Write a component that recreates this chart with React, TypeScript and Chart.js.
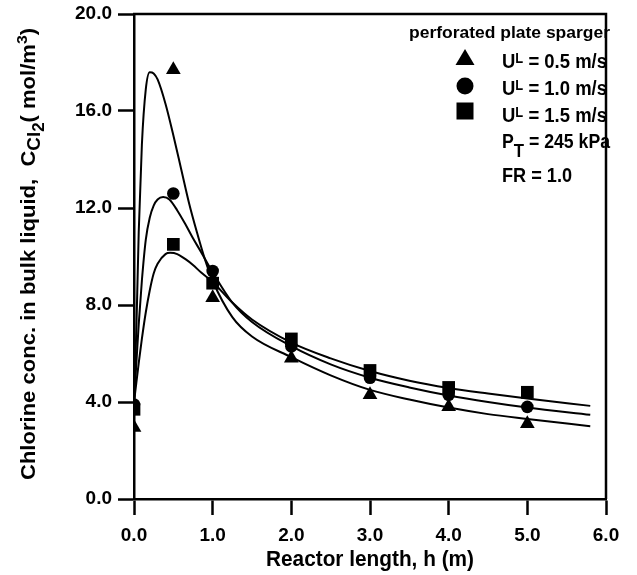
import React, { useEffect, useRef } from "react";
import { Chart, registerables } from "chart.js";

Chart.register(...registerables);

// Measured points
const hPoints = [0, 0.5, 1.0, 2.0, 3.0, 4.0, 5.0];
const cU05 = [2.95, 17.7, 8.3, 5.8, 4.3, 3.8, 3.1];
const cU10 = [3.9, 12.6, 9.4, 6.3, 5.0, 4.3, 3.8];
const cU15 = [3.7, 10.5, 8.9, 6.6, 5.3, 4.6, 4.4];

// Model curves
const hCurve05 = [0, 0.03, 0.06, 0.1, 0.15, 0.2, 0.25, 0.3, 0.4, 0.5, 0.6, 0.7, 0.8, 0.9, 1.0, 1.25, 1.5, 2.0, 2.5, 3.0, 3.5, 4.0, 4.5, 5.0, 5.8];
const curve05 = [4.0, 7.0, 11.0, 14.6, 16.9, 17.6, 17.55, 17.3, 16.3, 15.0, 13.6, 12.2, 11.0, 9.9, 9.0, 7.5, 6.7, 5.85, 5.1, 4.5, 4.1, 3.77, 3.5, 3.3, 3.0];
const hCurve10 = [0, 0.03, 0.06, 0.1, 0.15, 0.2, 0.25, 0.3, 0.37, 0.45, 0.55, 0.65, 0.75, 0.85, 1.0, 1.25, 1.5, 2.0, 2.5, 3.0, 3.5, 4.0, 4.5, 5.0, 5.8];
const curve10 = [4.0, 5.6, 7.2, 9.0, 10.7, 11.6, 12.1, 12.35, 12.45, 12.35, 11.9, 11.35, 10.75, 10.2, 9.35, 8.1, 7.3, 6.3, 5.55, 5.0, 4.6, 4.27, 4.0, 3.77, 3.47];
const hCurve15 = [0, 0.03, 0.06, 0.1, 0.15, 0.2, 0.25, 0.3, 0.4, 0.46, 0.55, 0.65, 0.75, 0.85, 1.0, 1.25, 1.5, 2.0, 2.5, 3.0, 3.5, 4.0, 4.5, 5.0, 5.8];
const curve15 = [4.0, 4.8, 5.6, 6.6, 7.7, 8.6, 9.3, 9.7, 10.1, 10.15, 10.1, 9.9, 9.65, 9.35, 8.95, 8.1, 7.4, 6.45, 5.8, 5.28, 4.88, 4.58, 4.35, 4.14, 3.84];

const xTicksMin = 0;
const xTicksMax = 6;
const yTicksMin = 0;
const yTicksMax = 20;

const legendTitle = "perforated plate sparger";
const legendVelocities = ["0.5", "1.0", "1.5"];
const pressureText = " = 245 kPa";
const frText = "FR = 1.0";
const xTitle = "Reactor length, h (m)";

const FONT = "'Liberation Sans', Arial, sans-serif";

type Seg = { t: string; size: number; dy: number };

function drawRich(ctx: CanvasRenderingContext2D, segs: Seg[], x: number, y: number, align: "left" | "center" | "right", fitWidth?: number) {
  let total = 0;
  const widths = segs.map((s) => {
    ctx.font = `bold ${s.size}px ${FONT}`;
    const w = ctx.measureText(s.t).width;
    total += w;
    return w;
  });
  const sx = fitWidth ? fitWidth / total : 1;
  const drawnW = total * sx;
  let start = x;
  if (align === "center") start = x - drawnW / 2;
  if (align === "right") start = x - drawnW;
  ctx.save();
  ctx.translate(start, y);
  ctx.scale(sx, 1);
  let cx = 0;
  ctx.textBaseline = "alphabetic";
  ctx.textAlign = "left";
  ctx.fillStyle = "#000";
  segs.forEach((s, i) => {
    ctx.font = `bold ${s.size}px ${FONT}`;
    ctx.fillText(s.t, cx, s.dy);
    cx += widths[i];
  });
  ctx.restore();
}

const decorPlugin = {
  id: "decor",
  afterDraw(chart: any) {
    const ctx: CanvasRenderingContext2D = chart.ctx;
    const a = chart.chartArea;
    ctx.save();
    // frame top & right
    ctx.strokeStyle = "#000";
    ctx.lineWidth = 2.5;
    ctx.beginPath();
    ctx.moveTo(a.left - 1, a.top);
    ctx.lineTo(a.right, a.top);
    ctx.lineTo(a.right, a.bottom);
    ctx.stroke();

    // y title
    ctx.save();
    ctx.translate(35, 254);
    ctx.rotate(-Math.PI / 2);
    drawRich(
      ctx,
      [
        { t: "Chlorine conc. in bulk liquid,  C", size: 21, dy: 0 },
        { t: "Cl", size: 18, dy: 5 },
        { t: "2", size: 16, dy: 9 },
        { t: "( mol/m", size: 21, dy: 0 },
        { t: "3", size: 15, dy: -8 },
        { t: ")", size: 21, dy: 0 },
      ],
      0,
      0,
      "center",
      452
    );
    ctx.restore();

    // x title
    drawRich(ctx, [{ t: xTitle, size: 22, dy: 0 }], 370, 566, "center", 208);

    // legend
    drawRich(ctx, [{ t: legendTitle, size: 16, dy: 0 }], 610, 38, "right", 201);
    const rowBase = [68, 95, 122];
    const mx = 465;
    const markerY = [59, 86, 111];
    ctx.fillStyle = "#000";
    // triangle
    ctx.beginPath();
    const ts = 10;
    ctx.moveTo(mx, markerY[0] - ts);
    ctx.lineTo(mx + ts * 0.95, markerY[0] + ts * 0.6);
    ctx.lineTo(mx - ts * 0.95, markerY[0] + ts * 0.6);
    ctx.closePath();
    ctx.fill();
    // circle
    ctx.beginPath();
    ctx.arc(mx, markerY[1], 8.5, 0, Math.PI * 2);
    ctx.fill();
    // square
    ctx.fillRect(mx - 8.5, markerY[2] - 8.5, 17, 17);

    legendVelocities.forEach((v, i) => {
      drawRich(
        ctx,
        [
          { t: "U", size: 20, dy: 0 },
          { t: "L", size: 14, dy: -5.5 },
          { t: ` = ${v} m/s`, size: 20, dy: 0 },
        ],
        502,
        rowBase[i],
        "left",
        105
      );
    });
    drawRich(
      ctx,
      [
        { t: "P", size: 20, dy: 0 },
        { t: "T", size: 19, dy: 9 },
        { t: pressureText, size: 20, dy: 0 },
      ],
      502,
      148,
      "left",
      108
    );
    drawRich(ctx, [{ t: frText, size: 20, dy: 0 }], 502, 182, "left", 70);
    ctx.restore();
  },
};

export default function App() {
  const ref = useRef<HTMLCanvasElement | null>(null);
  useEffect(() => {
    if (!ref.current) return;
    const pts = (xs: number[], ys: number[]) => xs.map((x, i) => ({ x, y: ys[i] }));
    const lineDs = (xs: number[], ys: number[]) => ({
      type: "line" as const,
      data: pts(xs, ys),
      borderColor: "#000",
      borderWidth: 2,
      pointRadius: 0,
      showLine: true,
      fill: false,
      cubicInterpolationMode: "monotone" as const,
    });
    const ptDs = (ys: number[], style: string, r: number) => ({
      type: "scatter" as const,
      data: pts(hPoints, ys),
      pointStyle: style,
      pointRadius: r,
      backgroundColor: "#000",
      borderColor: "#000",
      borderWidth: 0,
      showLine: false,
    });
    const tickFont = { family: FONT, weight: "bold" as const, size: 19 };
    const chart = new Chart(ref.current, {
      type: "scatter",
      data: {
        datasets: [
          lineDs(hCurve05, curve05),
          lineDs(hCurve10, curve10),
          lineDs(hCurve15, curve15),
          ptDs(cU05, "triangle", 8.5),
          ptDs(cU10, "circle", 6.3),
          ptDs(cU15, "rect", 9),
        ] as any,
      },
      options: {
        animation: false,
        responsive: false,
        devicePixelRatio: 1,
        layout: { padding: { top: 14, right: 31, left: 0, bottom: 0 } },
        plugins: { legend: { display: false }, tooltip: { enabled: false }, title: { display: false } },
        scales: {
          x: {
            type: "linear",
            min: xTicksMin,
            max: xTicksMax,
            ticks: { stepSize: 1, callback: (v: any) => Number(v).toFixed(1), font: tickFont, color: "#000", padding: 9, maxRotation: 0, autoSkip: false },
            grid: { drawOnChartArea: false, drawTicks: true, tickLength: 16, tickWidth: 2.5, tickColor: "#000" },
            border: { display: true, color: "#000", width: 2.5 },
            afterFit: (s: any) => {
              s.height = 76;
              s.paddingLeft = 0;
              s.paddingRight = 0;
            },
          },
          y: {
            type: "linear",
            min: yTicksMin,
            max: yTicksMax,
            ticks: { stepSize: 4, callback: (v: any) => Number(v).toFixed(1), font: tickFont, color: "#000", padding: 6, autoSkip: false },
            grid: { drawOnChartArea: false, drawTicks: true, tickLength: 16, tickWidth: 2.5, tickColor: "#000" },
            border: { display: true, color: "#000", width: 2.5 },
            afterFit: (s: any) => {
              s.width = 134;
              s.paddingTop = 0;
              s.paddingBottom = 0;
            },
          },
        },
      } as any,
      plugins: [decorPlugin],
    });
    return () => chart.destroy();
  }, []);
  return (
    <div style={{ position: "fixed", left: 0, top: 0, width: 637, height: 575, background: "#fff" }}>
      <canvas ref={ref} width={637} height={575} style={{ width: 637, height: 575, display: "block" }} />
    </div>
  );
}
